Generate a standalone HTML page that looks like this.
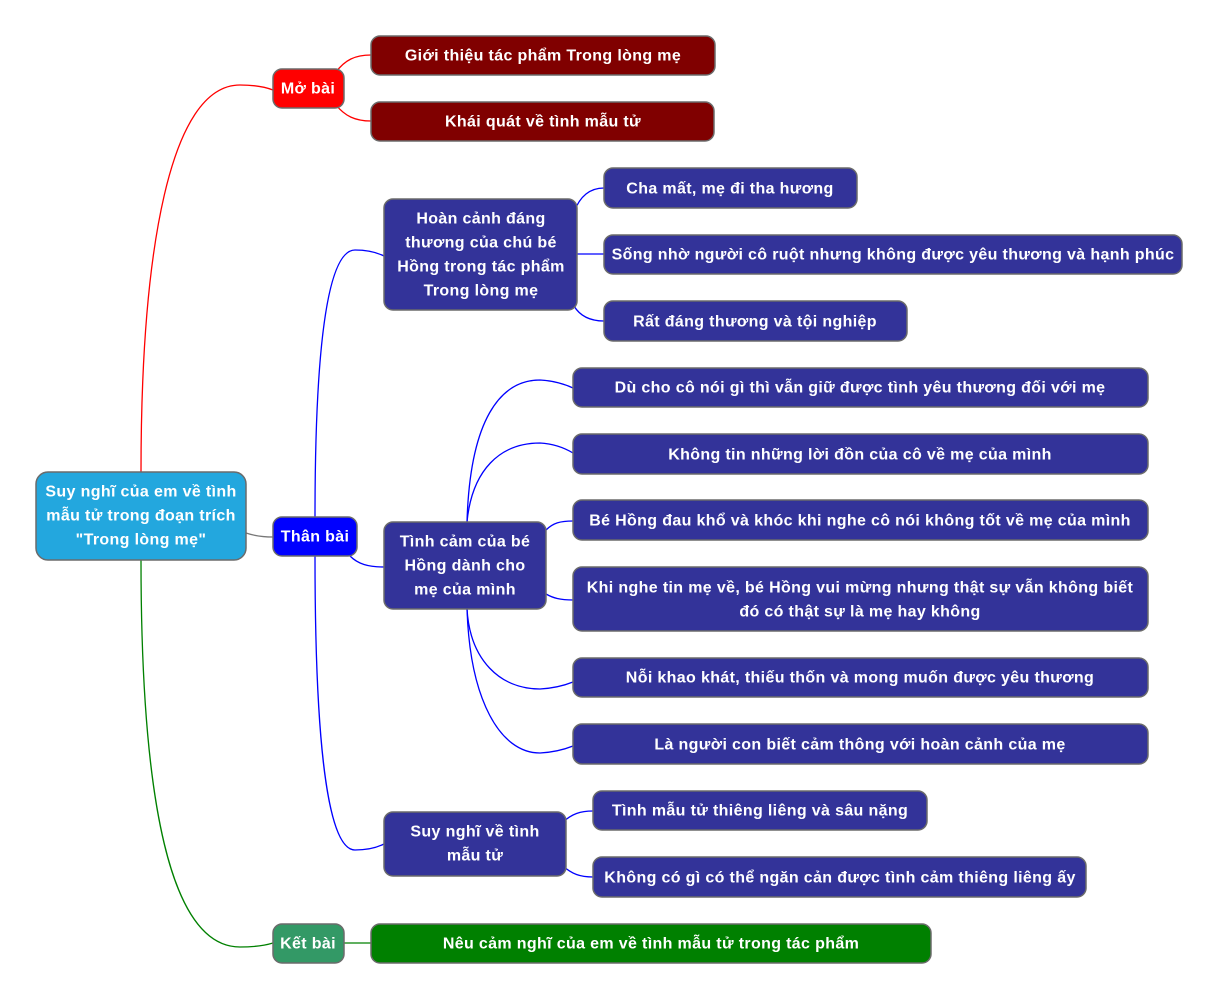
<!DOCTYPE html>
<html><head><meta charset="utf-8"><style>
html,body{margin:0;padding:0;background:#fff;}
svg{display:block}
text{font-family:"Liberation Sans","DejaVu Sans",sans-serif;font-weight:bold;font-size:16px;letter-spacing:0.35px;fill:#fff;text-anchor:middle;dominant-baseline:central}
rect{stroke:#6b6b6b;stroke-width:1.5}
path{fill:none;stroke-width:1.3}
</style></head><body>
<svg width="1220" height="1002" viewBox="0 0 1220 1002">
<path stroke="#ff0000" d="M141,472 C141,250 170,85 240,85 Q260,85 273,90"/>
<path stroke="#ff0000" d="M336,72 C345,60 355,55 371,55"/>
<path stroke="#ff0000" d="M336,105 C345,116 355,121 371,121"/>
<path stroke="#008000" d="M141,560 C141,800 170,947 240,947 Q260,947 273,943"/>
<path stroke="#777" d="M246,533 C255,536 262,537 273,537"/>
<path stroke="#0000ff" d="M315,517 C315,330 330,250 355,250 Q372,250 384,256"/>
<path stroke="#0000ff" d="M315,556 C315,760 330,850 355,850 Q372,850 384,844"/>
<path stroke="#0000ff" d="M350,556 C358,564 368,567 384,567"/>
<path stroke="#0000ff" d="M574,212 C580,196 590,188 604,188"/>
<path stroke="#0000ff" d="M577,254 L604,254"/>
<path stroke="#0000ff" d="M574,306 C580,316 590,321 604,321"/>
<path stroke="#0000ff" d="M467,522 C470,420 500,380 540,380 Q558,381 573,388"/>
<path stroke="#0000ff" d="M467,522 C472,470 500,443 540,443 Q558,444 573,453"/>
<path stroke="#0000ff" d="M546,530 C553,523 560,521 573,521"/>
<path stroke="#0000ff" d="M546,594 C553,598 560,600 573,600"/>
<path stroke="#0000ff" d="M467,609 C470,660 500,689 540,689 Q558,688 573,682"/>
<path stroke="#0000ff" d="M467,609 C470,700 500,753 540,753 Q558,752 573,746"/>
<path stroke="#0000ff" d="M563,822 C572,814 580,811 593,811"/>
<path stroke="#0000ff" d="M563,866 C572,874 580,877 593,877"/>
<path stroke="#008000" d="M344,943 L371,943"/>
<rect x="36" y="472" width="210" height="88" rx="12" fill="#23a7de"/>
<text x="141" y="492">Suy nghĩ của em về tình</text>
<text x="141" y="516">mẫu tử trong đoạn trích</text>
<text x="141" y="540">"Trong lòng mẹ"</text>
<rect x="273" y="69" width="71" height="39" rx="9" fill="#ff0000"/><text x="308" y="89">Mở bài</text>
<rect x="273" y="517" width="84" height="39" rx="9" fill="#0000ff"/><text x="315" y="537">Thân bài</text>
<rect x="273" y="924" width="71" height="39" rx="9" fill="#339966"/><text x="308" y="944">Kết bài</text>
<rect x="371" y="36" width="344" height="39" rx="9" fill="#800000"/><text x="543" y="56">Giới thiệu tác phẩm Trong lòng mẹ</text>
<rect x="371" y="102" width="343" height="39" rx="9" fill="#800000"/><text x="543" y="122">Khái quát về tình mẫu tử</text>
<rect x="384" y="199" width="193" height="111" rx="9" fill="#333399"/>
<text x="481" y="219">Hoàn cảnh đáng</text><text x="481" y="243">thương của chú bé</text><text x="481" y="267">Hồng trong tác phẩm</text><text x="481" y="291">Trong lòng mẹ</text>
<rect x="604" y="168" width="253" height="40" rx="9" fill="#333399"/><text x="730" y="189">Cha mất, mẹ đi tha hương</text>
<rect x="604" y="235" width="578" height="39" rx="9" fill="#333399"/><text x="893" y="255">Sống nhờ người cô ruột nhưng không được yêu thương và hạnh phúc</text>
<rect x="604" y="301" width="303" height="40" rx="9" fill="#333399"/><text x="755" y="322">Rất đáng thương và tội nghiệp</text>
<rect x="384" y="522" width="162" height="87" rx="9" fill="#333399"/>
<text x="465" y="542">Tình cảm của bé</text><text x="465" y="566">Hồng dành cho</text><text x="465" y="590">mẹ của mình</text>
<rect x="573" y="368" width="575" height="39" rx="9" fill="#333399"/><text x="860" y="388">Dù cho cô nói gì thì vẫn giữ được tình yêu thương đối với mẹ</text>
<rect x="573" y="434" width="575" height="40" rx="9" fill="#333399"/><text x="860" y="455">Không tin những lời đồn của cô về mẹ của mình</text>
<rect x="573" y="500" width="575" height="40" rx="9" fill="#333399"/><text x="860" y="521">Bé Hồng đau khổ và khóc khi nghe cô nói không tốt về mẹ của mình</text>
<rect x="573" y="567" width="575" height="64" rx="9" fill="#333399"/>
<text x="860" y="588">Khi nghe tin mẹ về, bé Hồng vui mừng nhưng thật sự vẫn không biết</text><text x="860" y="612">đó có thật sự là mẹ hay không</text>
<rect x="573" y="658" width="575" height="39" rx="9" fill="#333399"/><text x="860" y="678">Nỗi khao khát, thiếu thốn và mong muốn được yêu thương</text>
<rect x="573" y="724" width="575" height="40" rx="9" fill="#333399"/><text x="860" y="745">Là người con biết cảm thông với hoàn cảnh của mẹ</text>
<rect x="384" y="812" width="182" height="64" rx="9" fill="#333399"/>
<text x="475" y="832">Suy nghĩ về tình</text><text x="475" y="856">mẫu tử</text>
<rect x="593" y="791" width="334" height="39" rx="9" fill="#333399"/><text x="760" y="811">Tình mẫu tử thiêng liêng và sâu nặng</text>
<rect x="593" y="857" width="493" height="40" rx="9" fill="#333399"/><text x="840" y="878">Không có gì có thể ngăn cản được tình cảm thiêng liêng ấy</text>
<rect x="371" y="924" width="560" height="39" rx="9" fill="#008000"/><text x="651" y="944">Nêu cảm nghĩ của em về tình mẫu tử trong tác phẩm</text>
</svg>
</body></html>
